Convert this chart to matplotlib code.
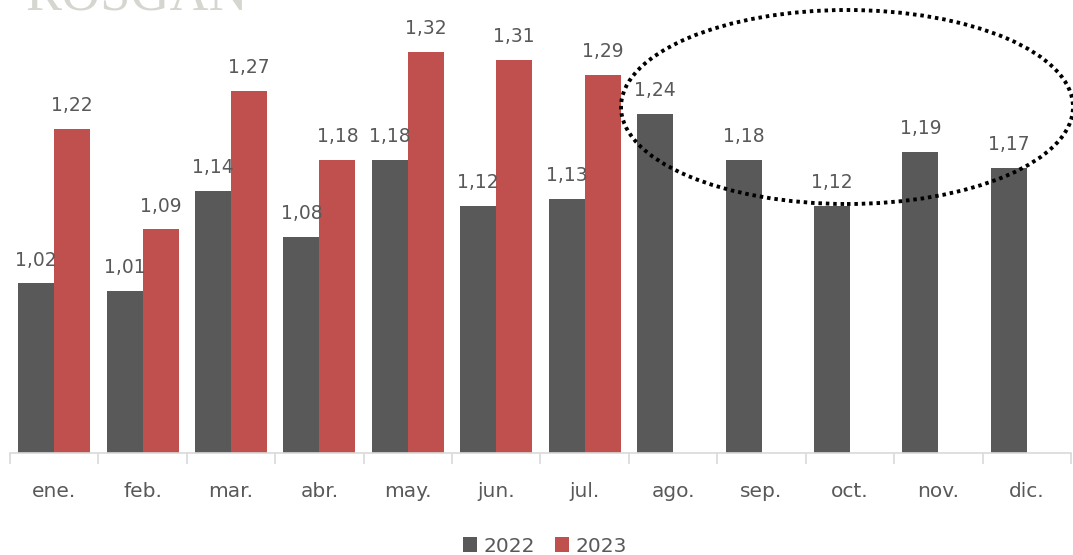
import numpy as np
import matplotlib.pyplot as plt
from matplotlib.patches import Ellipse

months = ["ene.", "feb.", "mar.", "abr.", "may.", "jun.", "jul.",
          "ago.", "sep.", "oct.", "nov.", "dic."]
vals_2022 = [1.02, 1.01, 1.14, 1.08, 1.18, 1.12, 1.13, 1.24, 1.18, 1.12, 1.19, 1.17]
vals_2023 = [1.22, 1.09, 1.27, 1.18, 1.32, 1.31, 1.29]

c_2022 = "#595959"
c_2023 = "#C0504D"
txt = "#595959"
axis_c = "#d9d9d9"

fig = plt.figure(figsize=(10.73, 5.55), dpi=100)
ax = fig.add_axes([0.0093, 0.1838, 0.9888, 0.8333])

x = np.arange(len(months))
w = 0.407
b1 = ax.bar(x - w / 2, vals_2022, w, color=c_2022, label="2022")
b2 = ax.bar(x[:len(vals_2023)] + w / 2, vals_2023, w, color=c_2023, label="2023")

# value labels with comma decimals
for bars in (b1, b2):
    for rect in bars:
        h = rect.get_height()
        ax.annotate(f"{h:.2f}".replace(".", ","),
                    (rect.get_x() + rect.get_width() / 2, h),
                    xytext=(0, 10), textcoords="offset points",
                    ha="center", va="bottom", fontsize=13.5, color=txt)

ax.set_ylim(0.8, 1.4)
ax.set_xlim(-0.5, len(months) - 0.5)
ax.set_yticks([])
for s in ("left", "right", "top"):
    ax.spines[s].set_visible(False)
ax.spines["bottom"].set_color(axis_c)
ax.spines["bottom"].set_linewidth(1.2)

ax.set_xticks(x)
ax.set_xticklabels(months, fontsize=14.5, color=txt)
ax.set_xticks(np.arange(-0.5, len(months)), minor=True)
ax.tick_params(axis="x", which="major", length=0, pad=21)
ax.tick_params(axis="x", which="minor", length=8, color=axis_c, width=1.2)

# dotted ring around the second half of 2022
ring = Ellipse((847 / 1073, 1 - 107 / 555), 452 / 1073, 194 / 555,
               transform=fig.transFigure, fill=False, edgecolor="black",
               linewidth=2.8, linestyle=(0, (0.9, 1.0)))
fig.add_artist(ring)

# watermark, mostly above the top edge
fig.text(25 / 1073, 1 - 10 / 555, "ROSGAN", family="Liberation Serif",
         fontsize=39, color="#d6d6d0", ha="left", va="baseline")

fig.legend(handles=[b1, b2], labels=["2022", "2023"], loc="center",
           bbox_to_anchor=(545 / 1073, 1 - 546 / 555), ncol=2, frameon=False,
           fontsize=14.5, handlelength=0.7, handleheight=0.7,
           handletextpad=0.3, columnspacing=1.0, labelcolor=txt)

fig.savefig("out.png", dpi=100)
